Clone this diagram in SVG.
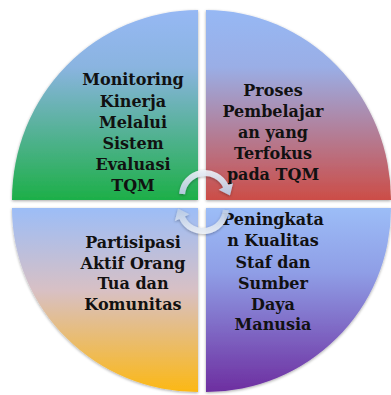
<svg xmlns="http://www.w3.org/2000/svg" width="391" height="395" viewBox="0 0 391 395">
<defs>
<linearGradient id="gTL" x1="0" y1="0" x2="0" y2="1"><stop offset="0" stop-color="#96b8f4"/><stop offset="0.3" stop-color="#8ab4e0"/><stop offset="1" stop-color="#1daf48"/></linearGradient>
<linearGradient id="gTR" x1="0" y1="0" x2="0" y2="1"><stop offset="0" stop-color="#96b8f4"/><stop offset="0.3" stop-color="#9aaee6"/><stop offset="1" stop-color="#cc4d47"/></linearGradient>
<linearGradient id="gBL" x1="0" y1="0" x2="0" y2="1"><stop offset="0" stop-color="#9cbdf7"/><stop offset="0.45" stop-color="#d8c0c4"/><stop offset="1" stop-color="#fcb814"/></linearGradient>
<linearGradient id="gBR" x1="0" y1="0" x2="0" y2="1"><stop offset="0" stop-color="#9cbdf7"/><stop offset="0.35" stop-color="#8f9ee6"/><stop offset="1" stop-color="#6d2ea0"/></linearGradient>
<linearGradient id="gArr" x1="0" y1="0" x2="0" y2="1"><stop offset="0" stop-color="#eef2f8"/><stop offset="1" stop-color="#b9cbe6"/></linearGradient>
<filter id="sh" x="-10%" y="-10%" width="120%" height="120%"><feGaussianBlur in="SourceAlpha" stdDeviation="1.5"/><feOffset dx="0" dy="1" result="b"/><feComponentTransfer><feFuncA type="linear" slope="0.35"/></feComponentTransfer><feMerge><feMergeNode/><feMergeNode in="SourceGraphic"/></feMerge></filter>
<path id="arrowTop" d="M179.1,193.7 A26,26 0 0 1 228.6,185 L233.1,182.9 L230,195.5 L218.6,189.7 L223.1,187.5 A20,20 0 0 0 185.1,194.3 Z"/>
</defs>
<style>
.t{font-family:"DejaVu Serif","Liberation Serif",serif;font-weight:bold;font-size:16px;fill:#111;text-anchor:middle}
.arr{fill:url(#gArr);opacity:0.92}
</style>
<rect width="391" height="395" fill="#fff"/>
<g id="node-monitoring">
<path d="M198,200 H12 A186,190 0 0 1 198,10 Z" fill="url(#gTL)" filter="url(#sh)"/>
<text class="t"><tspan x="133" y="85">Monitoring</tspan><tspan x="133" y="107">Kinerja</tspan><tspan x="133" y="128">Melalui</tspan><tspan x="133" y="149">Sistem</tspan><tspan x="133" y="170">Evaluasi</tspan><tspan x="133" y="191">TQM</tspan></text>
</g>
<g id="node-proses">
<path d="M206,200 V10 A185,190 0 0 1 391,200 Z" fill="url(#gTR)" filter="url(#sh)"/>
<text class="t"><tspan x="273" y="96">Proses</tspan><tspan x="273" y="117">Pembelajar</tspan><tspan x="273" y="138">an yang</tspan><tspan x="273" y="159">Terfokus</tspan><tspan x="273" y="180">pada TQM</tspan></text>
</g>
<g id="node-peningkatan">
<path d="M206,208 H391 A185,184 0 0 1 206,392 Z" fill="url(#gBR)" filter="url(#sh)"/>
<text class="t"><tspan x="273" y="225">Peningkata</tspan><tspan x="273" y="246">n Kualitas</tspan><tspan x="273" y="268">Staf dan</tspan><tspan x="273" y="289">Sumber</tspan><tspan x="273" y="310">Daya</tspan><tspan x="273" y="330">Manusia</tspan></text>
</g>
<g id="node-partisipasi">
<path d="M198,208 V392 A186,184 0 0 1 12,208 Z" fill="url(#gBL)" filter="url(#sh)"/>
<text class="t"><tspan x="133" y="248">Partisipasi</tspan><tspan x="133" y="269">Aktif Orang</tspan><tspan x="133" y="289">Tua dan</tspan><tspan x="133" y="310">Komunitas</tspan></text>
</g>
<g id="connectors" filter="url(#sh)">
<use href="#arrowTop" class="arr"/>
<use href="#arrowTop" class="arr" transform="rotate(180 204 202)"/>
</g>
</svg>
